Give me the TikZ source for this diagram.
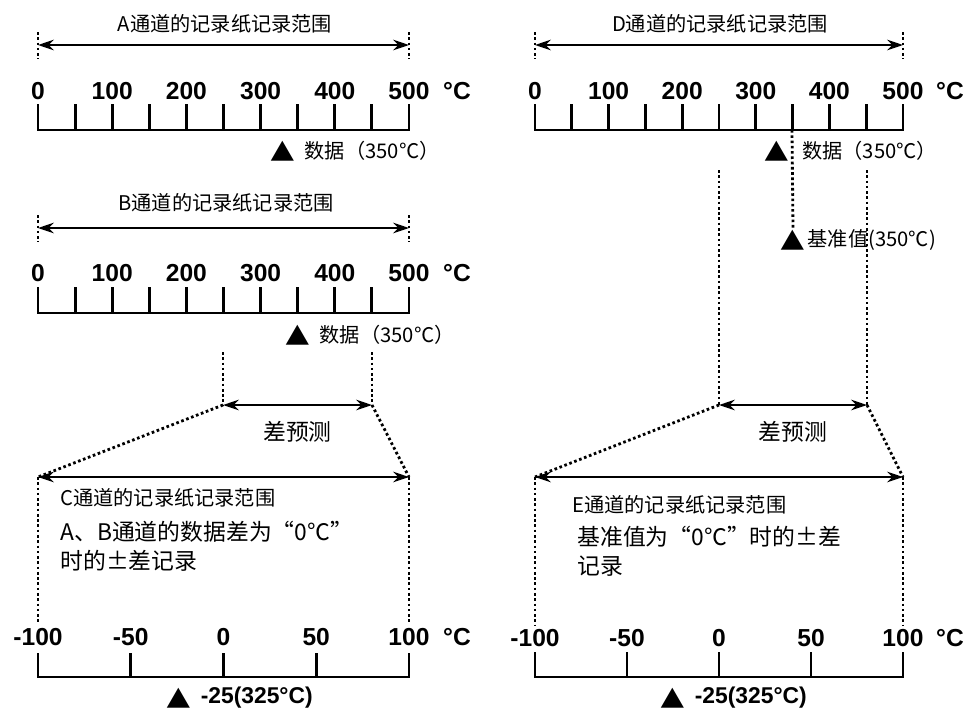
\documentclass[tikz,border=0pt]{standalone}
\usepackage{fontspec}
\setmainfont{Liberation Sans}
\newfontfamily\cjk{Noto Sans CJK SC}
\usetikzlibrary{arrows.meta, positioning}

\begin{document}
\begin{tikzpicture}[
    x=0.02cm, y=-0.02cm,
    scl/.style={line width=1.6pt, line join=miter},
    rng/.style={{Stealth[length=9pt,width=6pt]}-{Stealth[length=9pt,width=6pt]}, line width=1.4pt},
    dots/.style={line width=1.6pt, dash pattern=on 1.5pt off 1.5pt},
    ttl/.style={font=\cjk\fontsize{11.5}{13}\selectfont, inner sep=0pt},
    num/.style={font=\fontsize{14}{14}\selectfont\bfseries, inner sep=0pt},
    tri/.style={font=\cjk\fontsize{14}{14}\selectfont, inner sep=0pt},
    val/.style={font=\cjk\fontsize{11.5}{12}\selectfont, inner sep=0pt},
    res/.style={font=\fontsize{13}{13}\selectfont\bfseries, inner sep=0pt},
    note/.style={font=\cjk\fontsize{13}{16.5}\selectfont, inner sep=0pt, align=left, anchor=north west}
]
\useasboundingbox (0,0) rectangle (964,711);

% ---- channel A ----
\node[ttl] (ttlA) at (225,24) {A通道的记录纸记录范围};
\coordinate (aL) at (38,45);
\coordinate (aR) at (409,45);
\draw[dots, line width=1.3pt] (38,32) -- (38,59) (409,32) -- (409,59);
\draw[rng] (aL) -- (aR);
\foreach \v [count=\i from 0] in {0,100,200,300,400,500}
    \node[num] (na\i) at ({38+\i*74.2},91) {\v};
\node[num] (ua) at (457,91) {°C};
\draw[scl] (38,104) -- (38,130) -- (409,130) -- (409,104);
\foreach \i in {1,...,9}
    \draw[scl] ({38+\i*37.1},104) -- ({38+\i*37.1},130);
\node[tri] (ma) at (283,151) {▲};
\node[val, right=5pt of ma] (da) {数据（350℃）};

% ---- channel B ----
\node[ttl] (ttlB) at (226,203) {B通道的记录纸记录范围};
\coordinate (bL) at (38,228);
\coordinate (bR) at (409,228);
\draw[dots, line width=1.3pt] (38,215) -- (38,242) (409,215) -- (409,242);
\draw[rng] (bL) -- (bR);
\foreach \v [count=\i from 0] in {0,100,200,300,400,500}
    \node[num] (nb\i) at ({38+\i*74.2},273) {\v};
\node[num] (ub) at (457,273) {°C};
\draw[scl] (38,287) -- (38,313) -- (409,313) -- (409,287);
\foreach \i in {1,...,9}
    \draw[scl] ({38+\i*37.1},287) -- ({38+\i*37.1},313);
\node[tri] (mb) at (298,335) {▲};
\node[val, right=5pt of mb] (db) {数据（350℃）};

% ---- difference B -> C ----
\coordinate (p1) at (223,405);
\coordinate (p2) at (372,405);
\draw[dots] (223,352) -- (p1) (372,352) -- (p2);
\draw[rng] (p1) -- node[below=5pt, font=\cjk\fontsize{13}{13}\selectfont] (dif1) {差预测} (p2);

% ---- channel C ----
\coordinate (cL) at (38,477);
\coordinate (cR) at (409,477);
\draw[dots] (p1) -- (cL) (p2) -- (cR);
\draw[rng] (cL) -- (cR);
\draw[dots] (cL) -- (38,624) (cR) -- (409,624);
\node[ttl, anchor=west] (ttlC) at (60,498) {C通道的记录纸记录范围};
\node[note] (nc) at (60,521) {A、B通道的数据差为“0℃”\\时的±差记录};
\foreach \v [count=\i from 0] in {-100,-50,0,50,100}
    \node[num] (nc\i) at ({38+\i*92.75},637) {\v};
\node[num] (uc) at (457,637) {°C};
\draw[scl] (38,653) -- (38,677) -- (409,677) -- (409,653);
\foreach \i in {1,2,3}
    \draw[scl] ({38+\i*92.75},653) -- ({38+\i*92.75},677);
\node[tri] (mc) at (179,698) {▲};
\node[res, right=5pt of mc] (rc) {-25(325°C)};

% ---- channel D ----
\node[ttl] (ttlD) at (720,24) {D通道的记录纸记录范围};
\coordinate (dL) at (535,45);
\coordinate (dR) at (903,45);
\draw[dots, line width=1.3pt] (535,32) -- (535,59) (903,32) -- (903,59);
\draw[rng] (dL) -- (dR);
\foreach \v [count=\i from 0] in {0,100,200,300,400,500}
    \node[num] (nd\i) at ({535+\i*73.6},91) {\v};
\node[num] (ud) at (950,91) {°C};
\draw[scl] (535,104) -- (535,130) -- (903,130) -- (903,104);
\foreach \i in {1,...,9}
    \draw[scl] ({535+\i*36.8},104) -- ({535+\i*36.8},130);
\node[tri] (md) at (777,151) {▲};
\node[val, right=7pt of md] (dd) {数据（350℃）};

% reference value
\node[tri] (mr) at (793,240) {▲};
\node[val, right=1pt of mr] (dr) {基准值(350℃)};
\draw[dots] (792,130) -- (mr.north);

% ---- difference D -> E ----
\coordinate (q1) at (719,405);
\coordinate (q2) at (867,405);
\draw[dots] (719,170) -- (q1) (867,170) -- (q2);
\draw[rng] (q1) -- node[below=5pt, font=\cjk\fontsize{13}{13}\selectfont] (dif2) {差预测} (q2);

% ---- channel E ----
\coordinate (eL) at (535,477);
\coordinate (eR) at (903,477);
\draw[dots] (q1) -- (eL) (q2) -- (eR);
\draw[rng] (eL) -- (eR);
\draw[dots] (eL) -- (535,625) (eR) -- (903,625);
\node[ttl, anchor=west] (ttlE) at (572,505) {E通道的记录纸记录范围};
\node[note] (ne) at (577,526) {基准值为“0℃”时的±差\\记录};
\foreach \v [count=\i from 0] in {-100,-50,0,50,100}
    \node[num] (ne\i) at ({535+\i*92},638) {\v};
\node[num] (ue) at (950,638) {°C};
\draw[scl] (535,652) -- (535,677) -- (903,677) -- (903,652);
\foreach \i in {1,2,3}
    \draw[scl] ({535+\i*92},652) -- ({535+\i*92},677);
\node[tri] (me) at (673,698) {▲};
\node[res, right=5pt of me] (re) {-25(325°C)};
\end{tikzpicture}
\end{document}
